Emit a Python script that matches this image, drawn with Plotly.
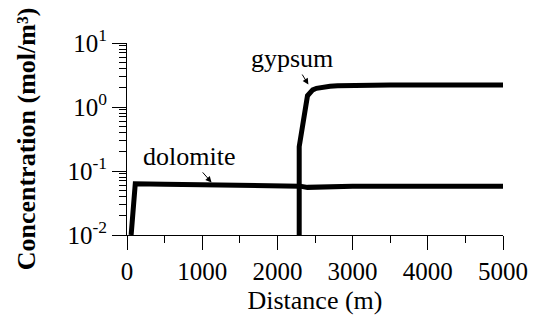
import plotly.graph_objects as go

# Data
dolomite_x = [55, 110, 500, 1000, 1500, 2000, 2300, 2400, 2600, 3000, 4000, 5000]
dolomite_y = [0.01, 0.063, 0.062, 0.061, 0.060, 0.059, 0.058, 0.0555, 0.057, 0.058, 0.058, 0.058]

gypsum_x = [2290, 2290, 2400, 2430, 2470, 2520, 2600, 2700, 2800, 3000, 3500, 4000, 5000]
gypsum_y = [0.01, 0.24, 1.5, 1.7, 1.85, 1.96, 2.05, 2.11, 2.15, 2.18, 2.2, 2.2, 2.2]

x_ticks = [0, 1000, 2000, 3000, 4000, 5000]
x_minor = [500, 1500, 2500, 3500, 4500]
y_tickvals = [0.01, 0.1, 1, 10]
y_ticktext = ["10<sup>-2</sup>", "10<sup>-1</sup>", "10<sup>0</sup>", "10<sup>1</sup>"]
y_minor = [m * 10 ** e for e in (-2, -1, 0) for m in range(2, 10)]

FONT = "Liberation Serif"

fig = go.Figure()
fig.add_trace(go.Scatter(x=dolomite_x, y=dolomite_y, mode="lines",
                         line=dict(color="black", width=5), showlegend=False))
fig.add_trace(go.Scatter(x=gypsum_x, y=gypsum_y, mode="lines",
                         line=dict(color="black", width=5), showlegend=False))
# empty trace to host the overlay axes that carry the short (minor) ticks
fig.add_trace(go.Scatter(x=[], y=[], xaxis="x2", yaxis="y2", showlegend=False, hoverinfo="skip"))

fig.update_layout(
    width=540, height=324,
    margin=dict(l=127, r=28, t=43, b=89),
    paper_bgcolor="white", plot_bgcolor="white",
    font=dict(family=FONT, color="black", size=25),
    xaxis=dict(
        range=[0, 5000], tickvals=x_ticks, ticks="outside", ticklen=14, tickwidth=1,
        tickcolor="black", showline=True, linecolor="black", linewidth=1,
        showgrid=False, zeroline=False, tickfont=dict(family=FONT, size=25),
        title=dict(text="Distance (m)", font=dict(family=FONT, size=26), standoff=6),
    ),
    yaxis=dict(
        type="log", range=[-2, 1], tickvals=y_tickvals, ticktext=y_ticktext,
        ticks="outside", ticklen=14, tickwidth=1, tickcolor="black",
        showline=True, linecolor="black", linewidth=1, showgrid=False, zeroline=False,
        tickfont=dict(family=FONT, size=25),
        title=dict(text="<b>Concentration (mol/m³)</b>", font=dict(family=FONT, size=26), standoff=24),
    ),
    xaxis2=dict(
        overlaying="x", anchor="y", side="bottom", range=[0, 5000], tickvals=x_minor,
        ticks="outside", ticklen=7, tickwidth=1, tickcolor="black", showticklabels=False,
        showgrid=False, zeroline=False, showline=False,
    ),
    yaxis2=dict(
        overlaying="y", anchor="x", side="left", type="log", range=[-2, 1], tickvals=y_minor,
        ticks="outside", ticklen=7, tickwidth=1, tickcolor="black", showticklabels=False,
        showgrid=False, zeroline=False, showline=False,
    ),
)

# Labels with arrows pointing to the curves
fig.add_annotation(x=2412, y=0.351, ax=-16, ay=-26, text="gypsum", showarrow=True,
                   arrowhead=2, arrowsize=1.2, arrowwidth=1, arrowcolor="black",
                   font=dict(family=FONT, size=26))
fig.add_annotation(x=1124, y=-1.178, ax=-23, ay=-26, text="dolomite", showarrow=True,
                   arrowhead=2, arrowsize=1.2, arrowwidth=1, arrowcolor="black",
                   font=dict(family=FONT, size=26))

fig.write_html("out.html")
